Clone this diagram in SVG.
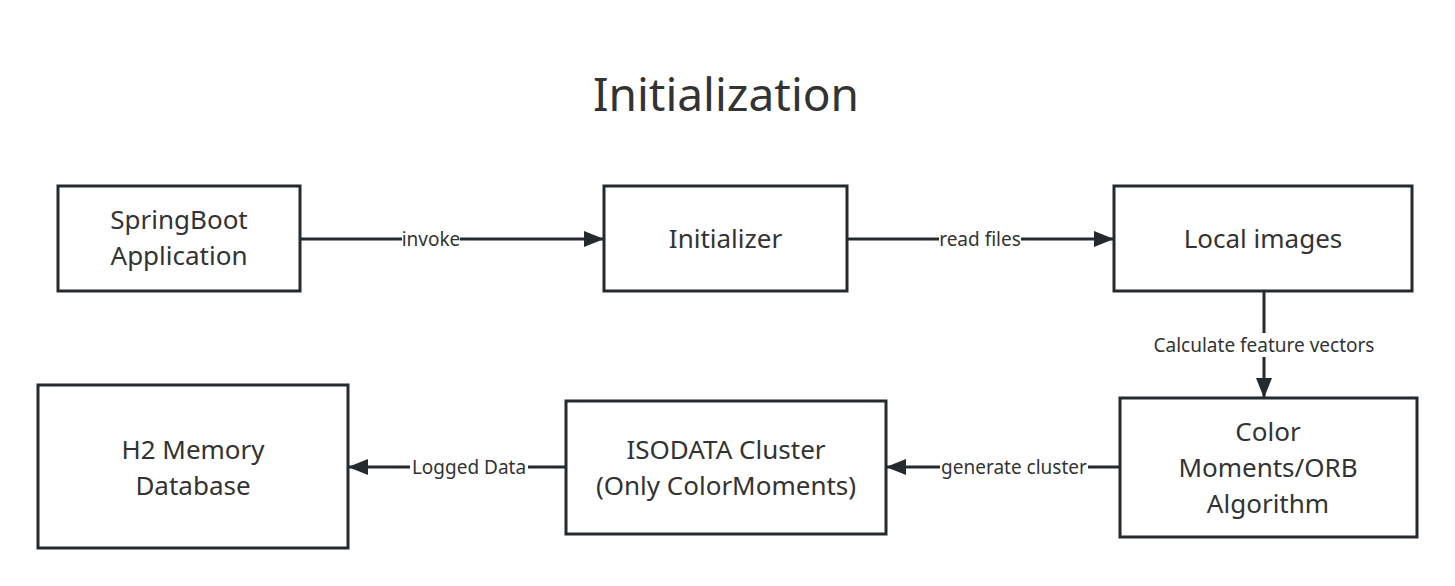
<svg xmlns="http://www.w3.org/2000/svg" width="1455" height="586" viewBox="0 0 1455 586">
<style>
.box{fill:#fff;stroke:#252a2e;stroke-width:3}
.t{font-family:"Noto Sans","Open Sans",sans-serif;font-size:26px;fill:#333;text-anchor:middle}
.lbl{font-family:"Noto Sans","Open Sans",sans-serif;font-size:19px;fill:#333;text-anchor:middle}
.lblbg{fill:#fff}
.edge{stroke:#252a2e;stroke-width:3;fill:none}
</style>
<defs>
<marker id="arr" viewBox="0 0 20 16" refX="20" refY="8" markerWidth="20" markerHeight="16" markerUnits="userSpaceOnUse" orient="auto">
<path d="M0,0 L20,8 L0,16 z" fill="#252a2e"/>
</marker>
</defs>
<rect width="1455" height="586" fill="#fff"/>
<text x="726" y="111" font-family="Noto Sans, Open Sans, sans-serif" font-size="46" fill="#333" text-anchor="middle">Initialization</text>
<g id="connectors">
<line class="edge" x1="300" y1="239" x2="604" y2="239" marker-end="url(#arr)"/>
<rect class="lblbg" x="402" y="228" width="58" height="22"/>
<text class="lbl" x="431" y="246">invoke</text>
<line class="edge" x1="847" y1="239" x2="1114" y2="239" marker-end="url(#arr)"/>
<rect class="lblbg" x="939" y="228" width="82" height="22"/>
<text class="lbl" x="980" y="246">read files</text>
<line class="edge" x1="1264" y1="291" x2="1264" y2="398" marker-end="url(#arr)"/>
<rect class="lblbg" x="1149" y="333" width="231" height="24"/>
<text class="lbl" x="1264" y="352">Calculate feature vectors</text>
<line class="edge" x1="1120" y1="467" x2="886" y2="467" marker-end="url(#arr)"/>
<rect class="lblbg" x="940" y="456" width="148" height="22"/>
<text class="lbl" x="1014" y="474">generate cluster</text>
<line class="edge" x1="566" y1="467" x2="348" y2="467" marker-end="url(#arr)"/>
<rect class="lblbg" x="410" y="456" width="118" height="22"/>
<text class="lbl" x="469" y="474">Logged Data</text>
</g>
<g id="springboot">
<rect class="box" x="58" y="186" width="242" height="105"/>
<text class="t" x="179" y="229">SpringBoot</text>
<text class="t" x="179" y="265">Application</text>
</g>
<g id="initializer">
<rect class="box" x="604" y="186" width="243" height="105"/>
<text class="t" x="725.5" y="248">Initializer</text>
</g>
<g id="localimages">
<rect class="box" x="1114" y="186" width="298" height="105"/>
<text class="t" x="1263" y="248">Local images</text>
</g>
<g id="colormoments">
<rect class="box" x="1120" y="398" width="297" height="139"/>
<text class="t" x="1268" y="441">Color</text>
<text class="t" x="1268" y="477">Moments/ORB</text>
<text class="t" x="1268" y="513">Algorithm</text>
</g>
<g id="isodata">
<rect class="box" x="566" y="401" width="320" height="133"/>
<text class="t" x="726" y="459">ISODATA Cluster</text>
<text class="t" x="726" y="495">(Only ColorMoments)</text>
</g>
<g id="h2">
<rect class="box" x="38" y="385" width="310" height="163"/>
<text class="t" x="193" y="459">H2 Memory</text>
<text class="t" x="193" y="495">Database</text>
</g>
</svg>
